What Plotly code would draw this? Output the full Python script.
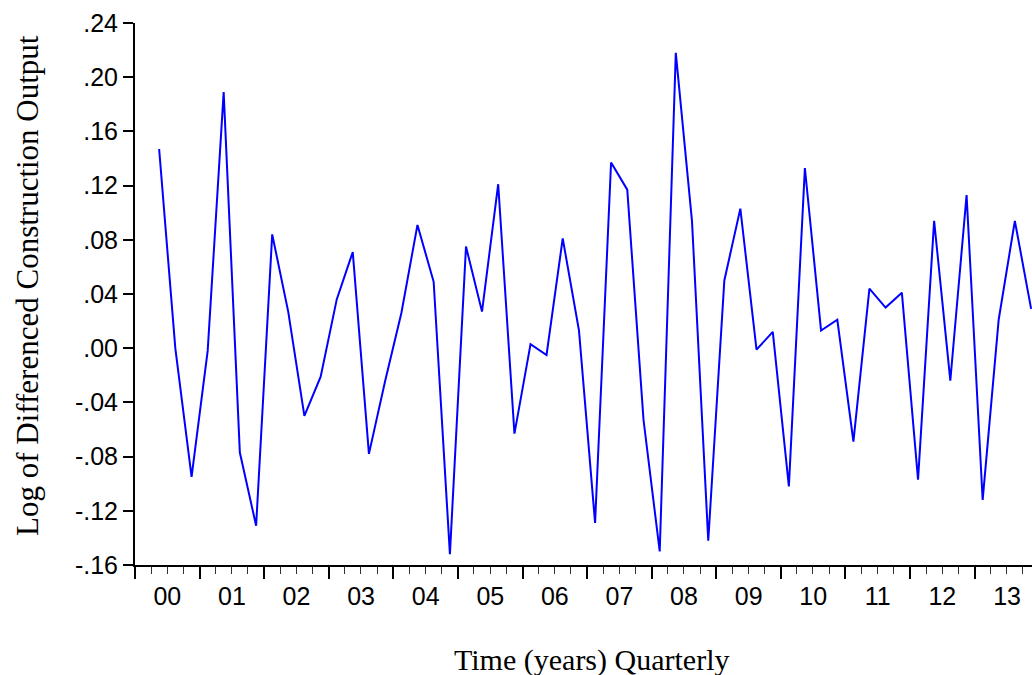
import pandas as pd
import plotly.graph_objects as go

# Quarterly sample: 2000Q2 .. 2013Q4
start_quarter = "2000Q2"
end_quarter = "2013Q4"
values = [0.147, 0.000, -0.095, -0.002, 0.189, -0.077, -0.131, 0.084, 0.027, -0.050,
          -0.021, 0.036, 0.071, -0.078, -0.024, 0.026, 0.091, 0.049, -0.152, 0.075,
          0.027, 0.121, -0.063, 0.003, -0.005, 0.081, 0.013, -0.129, 0.137, 0.117,
          -0.053, -0.150, 0.218, 0.094, -0.142, 0.050, 0.103, -0.001, 0.012, -0.102,
          0.133, 0.013, 0.021, -0.069, 0.044, 0.030, 0.041, -0.097, 0.094, -0.024,
          0.113, -0.112, 0.021, 0.094, 0.029]
y_tickvals = [-0.16, -0.12, -0.08, -0.04, 0.00, 0.04, 0.08, 0.12, 0.16, 0.20, 0.24]
y_ticktext = ["-.16", "-.12", "-.08", "-.04", ".00", ".04", ".08", ".12", ".16", ".20", ".24"]
y_title = "Log of Differenced Construction Output"
x_title = "Time (years) Quarterly"

periods = pd.period_range(start_quarter, end_quarter, freq="Q")
x_dates = [p.start_time + (p.end_time - p.start_time) / 2 for p in periods]

fig = go.Figure()
fig.add_trace(go.Scatter(
    x=x_dates, y=values, mode="lines",
    line=dict(color="#0000ff", width=2),
    showlegend=False, hoverinfo="skip",
))

tick_font = dict(family="Liberation Sans, Arial, sans-serif", size=25, color="black")

fig.update_xaxes(
    type="date",
    range=["2000-01-01", "2013-11-21"],
    tick0="2000-01-01", dtick="M12", tickformat="%y",
    ticklabelmode="period",
    ticks="outside", ticklen=12, tickwidth=1.5, tickcolor="black",
    ticklabelstandoff=-4,
    minor=dict(dtick="M3", tick0="2000-01-01", ticks="outside", ticklen=7,
               tickwidth=1, tickcolor="#333333", showgrid=False),
    showline=True, linecolor="black", linewidth=2,
    showgrid=False, zeroline=False,
    tickfont=tick_font,
)
fig.update_yaxes(
    range=[-0.16, 0.24],
    tickvals=y_tickvals, ticktext=y_ticktext,
    ticks="outside", ticklen=10, tickwidth=1.5, tickcolor="black",
    showline=True, linecolor="black", linewidth=2,
    showgrid=False, zeroline=False,
    tickfont=tick_font,
)

title_font_y = dict(family="Liberation Serif, Times New Roman, serif", size=31, color="black")
title_font_x = dict(family="Liberation Serif, Times New Roman, serif", size=30, color="black")
fig.add_annotation(text=y_title, xref="paper", yref="paper",
                   x=(27 - 135) / (1032 - 135), y=(565 - 286) / (565 - 23),
                   textangle=-90, showarrow=False, font=title_font_y,
                   xanchor="center", yanchor="middle")
fig.add_annotation(text=x_title, xref="paper", yref="paper",
                   x=(591 - 135) / (1032 - 135), y=-(660 - 565) / (565 - 23),
                   showarrow=False, font=title_font_x,
                   xanchor="center", yanchor="middle")

fig.update_layout(
    width=1032, height=675,
    margin=dict(l=135, r=0, t=23, b=110),
    paper_bgcolor="white", plot_bgcolor="white",
)

fig.write_html("out.html")
